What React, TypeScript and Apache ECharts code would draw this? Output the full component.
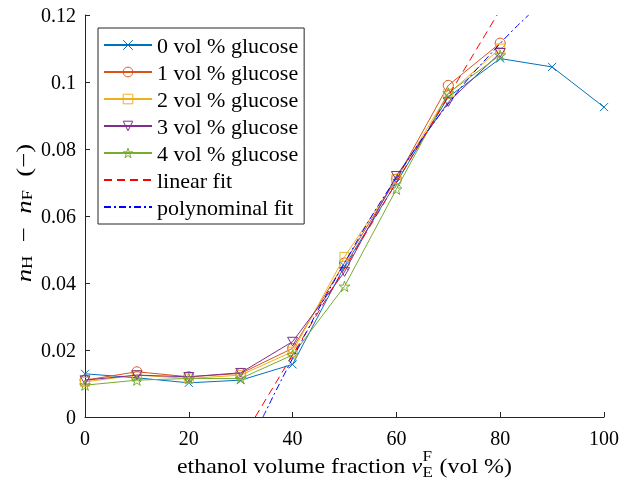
import React, { useEffect, useRef } from "react";
import * as echarts from "echarts";

const xValues = [0, 10, 20, 30, 40, 50, 60, 70, 80, 90, 100];
const glucose0 = [0.0129, 0.0117, 0.0102, 0.011, 0.0157, 0.045, 0.07, 0.0955, 0.107, 0.1045, 0.0925];
const glucose1 = [0.011, 0.0135, 0.012, 0.013, 0.0205, 0.046, 0.071, 0.099, 0.1116];
const glucose2 = [0.0105, 0.0125, 0.0115, 0.0125, 0.0195, 0.0478, 0.071, 0.0965, 0.11];
const glucose3 = [0.011, 0.0125, 0.012, 0.0132, 0.0225, 0.0433, 0.072, 0.094, 0.1087];
const glucose4 = [0.0095, 0.011, 0.0115, 0.0115, 0.0185, 0.039, 0.068, 0.0967, 0.108];
const linearFit: [number, number][] = [[32.8, 0], [79.4, 0.12]];
const polyFit: [number, number][] = [
  [34.3, 0], [40, 0.0175], [50, 0.046], [60, 0.0715], [70, 0.0935], [80, 0.1115], [85.5, 0.12],
];
const seriesNames = [
  "0 vol % glucose",
  "1 vol % glucose",
  "2 vol % glucose",
  "3 vol % glucose",
  "4 vol % glucose",
  "linear fit",
  "polynominal fit",
];
const yTicks = [0, 0.02, 0.04, 0.06, 0.08, 0.1, 0.12];
const xTicks = [0, 20, 40, 60, 80, 100];

const FONT = "Liberation Serif";
const colors = ["#0072BD", "#D95319", "#EDB120", "#7E2F8E", "#77AC30"];
const CROSS = "path://M0,0L10,10M0,10L10,0";
const TRI = "path://M0,0L10,0L5,8.66Z";
const STAR =
  "path://M50,0L61.17,34.63L97.55,34.55L68.07,55.87L79.39,90.45L50,69L20.61,90.45L31.93,55.87L2.45,34.55L38.83,34.63Z";
const symbols = [CROSS, "circle", "rect", TRI, STAR];
const sizes = [8, 10, 9, 10, 11];

function measure(text: string, font: string): number {
  const c = document.createElement("canvas").getContext("2d")!;
  c.font = font;
  return c.measureText(text).width;
}

export default function App() {
  const ref = useRef<HTMLDivElement>(null);
  useEffect(() => {
    if (!ref.current) return;
    const chart = echarts.init(ref.current, undefined, { renderer: "svg" });
    const data = [glucose0, glucose1, glucose2, glucose3, glucose4];
    const clear = "rgba(0,0,0,0)";
    const dataSeries = data.map((arr, i) => ({
      name: seriesNames[i],
      type: "line",
      data: arr.map((v, j) => [xValues[j], v]),
      symbol: symbols[i],
      symbolSize: sizes[i],
      symbolKeepAspect: true,
      showAllSymbol: true,
      itemStyle: { color: clear, borderColor: colors[i], borderWidth: 1 },
      lineStyle: { color: colors[i], width: 1 },
      emphasis: { disabled: true },
      z: 2 + i,
    }));
    const fitSeries = [
      {
        name: seriesNames[5],
        type: "line",
        data: linearFit,
        symbol: "none",
        itemStyle: { color: "#FF0000" },
        lineStyle: { color: "#FF0000", width: 1, type: [8, 5] },
        z: 10,
      },
      {
        name: seriesNames[6],
        type: "line",
        data: polyFit,
        smooth: true,
        symbol: "none",
        itemStyle: { color: "#0000FF" },
        lineStyle: { color: "#0000FF", width: 1, type: [7, 3, 2, 3] },
        z: 11,
      },
    ];

    // x-axis title layout (stretched to match the reference's span)
    const fs = 21;
    const ss = 15;
    const mainFont = `${fs}px "Liberation Serif"`;
    const italicFont = `italic ${fs}px "Liberation Serif"`;
    const smallFont = `${ss}px "Liberation Serif"`;
    const partA = "ethanol volume fraction ";
    const partB = " (vol %)";
    const wA = measure(partA, mainFont);
    const wV = measure("v", italicFont);
    const wS = Math.max(measure("E", smallFont), measure("F", smallFont)) + 1;
    const wB = measure(partB, mainFont);
    const total = wA + wV + wS + wB;
    const targetW = 335;
    const sx = targetW / total;
    const ty = 466;
    const textStyleBase = { fontFamily: FONT, fill: "#000" };

    chart.setOption({
      animation: false,
      textStyle: { fontFamily: FONT },
      grid: { left: 85, right: 18, top: 15, bottom: 68 },
      xAxis: {
        type: "value",
        min: xTicks[0],
        max: xTicks[xTicks.length - 1],
        interval: 20,
        axisLine: { lineStyle: { color: "#262626", width: 1 } },
        axisTick: { inside: true, length: 5, lineStyle: { color: "#262626" } },
        splitLine: { show: false },
        axisLabel: { color: "#000", fontFamily: FONT, fontSize: 20, margin: 11 },
      },
      yAxis: {
        type: "value",
        min: yTicks[0],
        max: yTicks[yTicks.length - 1],
        interval: 0.02,
        axisLine: { show: true, lineStyle: { color: "#262626", width: 1 } },
        axisTick: { show: true, inside: true, length: 5, lineStyle: { color: "#262626" } },
        splitLine: { show: false },
        axisLabel: {
          color: "#000",
          fontFamily: FONT,
          fontSize: 20,
          margin: 9,
          formatter: (v: number) => String(+v.toFixed(2)),
        },
      },
      legend: {
        data: seriesNames.map((n, i) =>
          i < 5
            ? { name: n, itemStyle: { color: clear, borderColor: colors[i], borderWidth: 1 } }
            : { name: n, itemStyle: { color: clear, borderColor: clear, borderWidth: 0 } }
        ),
        orient: "vertical",
        left: 98,
        top: 28,
        itemWidth: 48,
        itemHeight: 12,
        itemGap: 5,
        padding: [6, 6, 6, 5],
        borderColor: "#262626",
        borderWidth: 1,
        backgroundColor: "#fff",
        textStyle: { color: "#000", fontFamily: FONT, fontSize: 22, lineHeight: 22 },
        selectedMode: false,
      },
      graphic: [
        {
          type: "text",
          x: 23,
          y: 213,
          rotation: Math.PI / 2,
          scaleX: 1.22,
          style: {
            text: "{i|n}{s|H}  −  {i|n}{s|F}  (−)",
            align: "center",
            verticalAlign: "middle",
            fontFamily: FONT,
            fontSize: 22,
            fill: "#000",
            rich: {
              i: { fontStyle: "italic", fontSize: 22, fontFamily: FONT, lineHeight: 24 },
              s: { fontSize: 15, fontFamily: FONT, lineHeight: 10, verticalAlign: "bottom" },
            },
          },
        },
        {
          type: "group",
          x: 344.5 - targetW / 2,
          y: ty,
          scaleX: sx,
          children: [
            {
              type: "text",
              x: 0,
              y: 0,
              style: { ...textStyleBase, text: partA, fontSize: fs, verticalAlign: "middle" },
            },
            {
              type: "text",
              x: wA,
              y: 0,
              style: { ...textStyleBase, text: "v", fontSize: fs, fontStyle: "italic", verticalAlign: "middle" },
            },
            {
              type: "text",
              x: wA + wV + 0.5,
              y: 6,
              style: { ...textStyleBase, text: "E", fontSize: ss, verticalAlign: "middle" },
            },
            {
              type: "text",
              x: wA + wV + 0.5,
              y: -10,
              style: { ...textStyleBase, text: "F", fontSize: ss, verticalAlign: "middle" },
            },
            {
              type: "text",
              x: wA + wV + wS,
              y: 0,
              style: { ...textStyleBase, text: partB, fontSize: fs, verticalAlign: "middle" },
            },
          ],
        },
      ],
      series: [...dataSeries, ...fitSeries],
    });
    return () => chart.dispose();
  }, []);
  return <div ref={ref} style={{ position: "fixed", left: 0, top: 0, width: 622, height: 485 }} />;
}
